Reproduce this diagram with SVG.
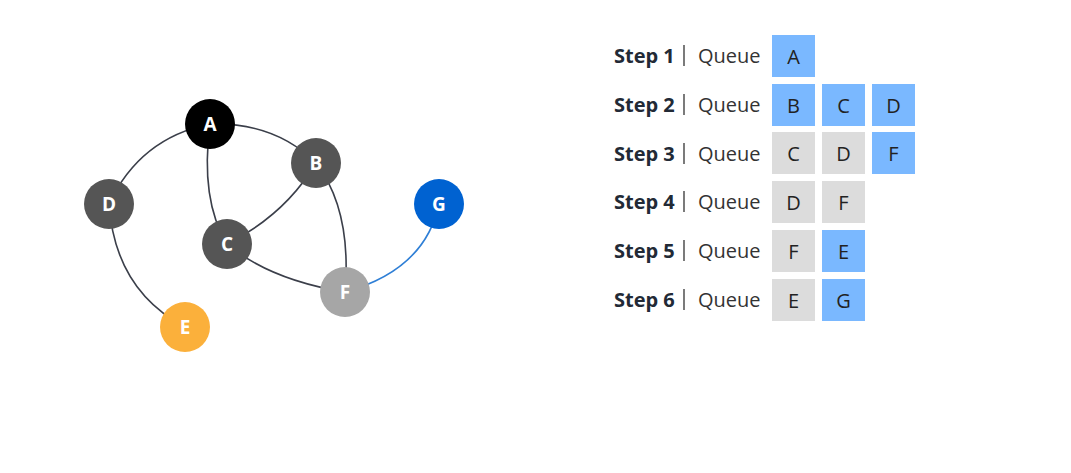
<svg xmlns="http://www.w3.org/2000/svg" width="1071" height="473" viewBox="0 0 1071 473">
<style>
.e{fill:none;stroke:#3b3f4a;stroke-width:1.6}
.eb{fill:none;stroke:#2f7fd6;stroke-width:1.6}
.nl{font-family:"Open Sans","Noto Sans",sans-serif;font-weight:700;font-size:19px;fill:#fff;text-anchor:middle}
.st{font-family:"Open Sans","Noto Sans",sans-serif;font-weight:700;font-size:20px;fill:#222a36}
.q{font-family:"Open Sans","Noto Sans",sans-serif;font-size:20px;fill:#333}
.bar{stroke:#333;stroke-width:1.3}
.bb{fill:#7ab8ff}
.bg{fill:#dcdcdc}
.bt{font-family:"Open Sans","Noto Sans",sans-serif;font-size:20px;fill:#222;text-anchor:middle}
</style>
<rect width="1071" height="473" fill="#fff"/>
<g id="connectors">
<path class="e" d="M210,124 Q140,138 109,204"/>
<path class="e" d="M210,124 Q275,122 316,163"/>
<path class="e" d="M210,124 Q200,200 227,244"/>
<path class="e" d="M316,163 Q285,215 227,244"/>
<path class="e" d="M316,163 Q352,210 345,292"/>
<path class="e" d="M227,244 Q270,280 345,292"/>
<path class="e" d="M109,204 Q115,290 185,327"/>
<path class="eb" d="M345,292 Q425,270 439,204"/>
</g>
<g id="node-A"><circle cx="210" cy="124" r="25" fill="#000"/><text class="nl" x="210" y="131">A</text></g>
<g id="node-B"><circle cx="316" cy="163" r="25" fill="#555"/><text class="nl" x="316" y="170">B</text></g>
<g id="node-D"><circle cx="109" cy="204" r="25" fill="#555"/><text class="nl" x="109" y="211">D</text></g>
<g id="node-C"><circle cx="227" cy="244" r="25" fill="#555"/><text class="nl" x="227" y="251">C</text></g>
<g id="node-G"><circle cx="439" cy="204" r="25" fill="#0062d1"/><text class="nl" x="439" y="211">G</text></g>
<g id="node-F"><circle cx="345" cy="292" r="25" fill="#a6a6a6"/><text class="nl" x="345" y="299">F</text></g>
<g id="node-E"><circle cx="185" cy="327" r="25" fill="#fbb03b"/><text class="nl" x="185" y="334">E</text></g>
<g id="table">
<g id="row1">
<text class="st" x="614" y="63">Step 1</text><line class="bar" x1="684" y1="45" x2="684" y2="66"/><text class="q" x="698" y="63">Queue</text>
<rect class="bb" x="772" y="35" width="43" height="42"/><text class="bt" x="793.5" y="63.5">A</text>
</g>
<g id="row2">
<text class="st" x="614" y="112">Step 2</text><line class="bar" x1="684" y1="94" x2="684" y2="115"/><text class="q" x="698" y="112">Queue</text>
<rect class="bb" x="772" y="84" width="43" height="42"/><text class="bt" x="793.5" y="112.5">B</text>
<rect class="bb" x="822" y="84" width="43" height="42"/><text class="bt" x="843.5" y="112.5">C</text>
<rect class="bb" x="872" y="84" width="43" height="42"/><text class="bt" x="893.5" y="112.5">D</text>
</g>
<g id="row3">
<text class="st" x="614" y="161">Step 3</text><line class="bar" x1="684" y1="143" x2="684" y2="164"/><text class="q" x="698" y="161">Queue</text>
<rect class="bg" x="772" y="132" width="43" height="42"/><text class="bt" x="793.5" y="161">C</text>
<rect class="bg" x="822" y="132" width="43" height="42"/><text class="bt" x="843.5" y="161">D</text>
<rect class="bb" x="872" y="132" width="43" height="42"/><text class="bt" x="893.5" y="161">F</text>
</g>
<g id="row4">
<text class="st" x="614" y="209">Step 4</text><line class="bar" x1="684" y1="191" x2="684" y2="212"/><text class="q" x="698" y="209">Queue</text>
<rect class="bg" x="772" y="181" width="43" height="42"/><text class="bt" x="793.5" y="209.5">D</text>
<rect class="bg" x="822" y="181" width="43" height="42"/><text class="bt" x="843.5" y="209.5">F</text>
</g>
<g id="row5">
<text class="st" x="614" y="258">Step 5</text><line class="bar" x1="684" y1="240" x2="684" y2="261"/><text class="q" x="698" y="258">Queue</text>
<rect class="bg" x="772" y="230" width="43" height="42"/><text class="bt" x="793.5" y="258.5">F</text>
<rect class="bb" x="822" y="230" width="43" height="42"/><text class="bt" x="843.5" y="258.5">E</text>
</g>
<g id="row6">
<text class="st" x="614" y="307">Step 6</text><line class="bar" x1="684" y1="289" x2="684" y2="310"/><text class="q" x="698" y="307">Queue</text>
<rect class="bg" x="772" y="279" width="43" height="42"/><text class="bt" x="793.5" y="307.5">E</text>
<rect class="bb" x="822" y="279" width="43" height="42"/><text class="bt" x="843.5" y="307.5">G</text>
</g>
</g>
</svg>
